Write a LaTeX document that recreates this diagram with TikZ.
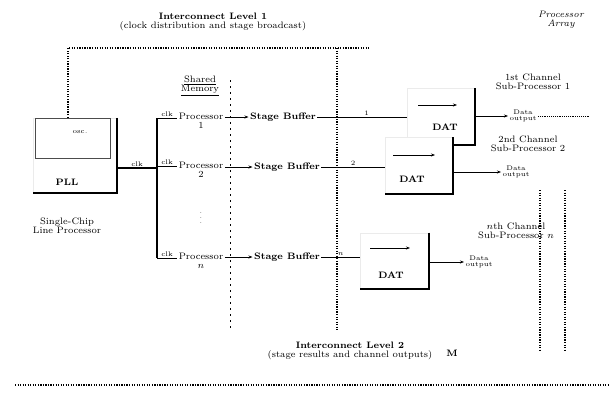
\documentclass[tikz,border=0pt]{standalone}
\usepackage{tikz}
\usetikzlibrary{arrows.meta, positioning, calc}

\begin{document}
\begin{tikzpicture}[
    x=0.75pt, y=-0.75pt,
    every node/.style={font=\scriptsize, inner sep=1pt},
    lbl/.style={align=center},
    hdr/.style={align=center, font=\scriptsize\bfseries},
    proc/.style={align=center, font=\scriptsize},
    sbuf/.style={font=\scriptsize\bfseries},
    tinyl/.style={font=\tiny, inner sep=0.5pt},
    shbox/.style={draw=black!8, fill=white},
    shedge/.style={line width=1.4pt},
    arr/.style={-{Stealth[length=3pt]}, semithick},
    bus/.style={line width=1.1pt},
    dotbus/.style={densely dotted, line width=0.9pt},
    memln/.style={dash pattern=on 1.5pt off 3pt, semithick}
  ]
  \useasboundingbox (0,0) rectangle (614,394);

  % titles
  \node[hdr] (lvone) at (213,22) {Interconnect Level 1\\[-1pt] \mdseries (clock distribution and stage broadcast)};
  \node[lbl, font=\scriptsize\itshape] (parr) at (561,20) {Processor\\[-1pt] Array};

  % line processor chip
  \node[shbox, minimum width=63pt, minimum height=56pt] (pll) at (75,155.5) {};
  \draw[shedge] (pll.north east) -- (pll.south east) -- (pll.south west);
  \node[draw=black!70, fill=white, minimum width=56pt, minimum height=30pt] (osc) at (72.5,138) {};
  \node[tinyl] (osctxt) at (80,132) {osc.};
  \node[font=\scriptsize\bfseries] (plltxt) at (67,182) {PLL};
  \node[lbl] (chip) at (67,226) {Single-Chip\\[-1pt] Line Processor};

  % clock bus and processors
  \coordinate (bustop) at (157,118);
  \coordinate (busbot) at (157,258);
  \node[lbl] (shm) at (200,86) {\underline{Shared}\\[-1pt] \underline{Memory}};
  \node[proc] (p1) at (201,121) {Processor\\[-1pt] 1};
  \node[proc] (p2) at (201,170) {Processor\\[-1pt] 2};
  \node[font=\tiny] (pdots) at (201,214) {$\vdots$};
  \node[proc] (pn) at (201,261) {Processor\\[-1pt] $n$};

  \draw[bus] (bustop) -- (busbot);
  \draw[bus] (pll.east |- 0,168) -- node[tinyl, above] {clk} (bustop |- 0,168);
  \draw[semithick] (bustop) -- node[tinyl, above] {clk} (p1.west |- bustop);
  \draw[semithick] (bustop |- 0,166) -- node[tinyl, above] {clk} (p2.west |- 0,166);
  \draw[semithick] (busbot) -- node[tinyl, above] {clk} (pn.west |- busbot);

  % stage buffers
  \node[sbuf] (sb1) at (283,117) {Stage Buffer};
  \node[sbuf] (sb2) at (287,167) {Stage Buffer};
  \node[sbuf] (sbn) at (287,257) {Stage Buffer};
  \draw[arr] (p1.east |- sb1) -- (sb1);
  \draw[arr] (p2.east |- sb2) -- (sb2);
  \draw[arr] (pn.east |- sbn) -- (sbn);

  % shared memory line
  \coordinate (memtop) at (230,80);
  \coordinate (membot) at (230,330);
  \draw[memln] (memtop) -- (membot);

  % interconnect level 1 bus
  \coordinate (ic1l) at (68,48);
  \coordinate (ic1r) at (370,48);
  \coordinate (ic1d) at (337,330);
  \draw[dotbus] (osc.north -| ic1l) -- (ic1l) -- (ic1r);
  \draw[dotbus] (ic1l -| ic1d) -- (ic1d);

  % DAT units
  \node[shbox, minimum width=51pt, minimum height=42pt] (datn) at (394.5,261) {};
  \draw[shedge] (datn.north east) -- (datn.south east) -- (datn.south west);
  \node[shbox, minimum width=51pt, minimum height=42pt] (dat1) at (441,116.5) {};
  \draw[shedge] (dat1.north east) -- (dat1.south east) -- (dat1.south west);
  \node[shbox, minimum width=51pt, minimum height=42pt] (dat2) at (419,165.5) {};
  \draw[shedge] (dat2.north east) -- (dat2.south east) -- (dat2.south west);
  \node[font=\scriptsize\bfseries] (dat1txt) at (445,127) {DAT};
  \node[font=\scriptsize\bfseries] (dat2txt) at (412,179) {DAT};
  \node[font=\scriptsize\bfseries] (datntxt) at (391,275) {DAT};
  \coordinate (d1a) at (418,105); \coordinate (d1b) at (457,105);
  \coordinate (d2a) at (393,155); \coordinate (d2b) at (435,155);
  \coordinate (dna) at (370,248); \coordinate (dnb) at (410,248);
  \draw[arr] (d1a) -- (d1b);
  \draw[arr] (d2a) -- (d2b);
  \draw[arr] (dna) -- (dnb);

  \draw[semithick] (sb1.east) -- node[tinyl, above, pos=0.55] {1} (dat1.west |- sb1);
  \draw[semithick] (sb2.east) -- node[tinyl, above, pos=0.5] {2} (dat2.west |- sb2);
  \draw[semithick] (sbn.east) -- node[tinyl, above, pos=0.5] {$n$} (datn.west |- sbn);

  % channel sub-processors
  \node[lbl] (ch1) at (533,82) {1st Channel\\[-1pt] Sub-Processor 1};
  \node[lbl] (ch2) at (528,144) {2nd Channel\\[-1pt] Sub-Processor 2};
  \node[lbl] (chn) at (516,231) {$n$th Channel\\[-1pt] Sub-Processor $n$};
  \node[lbl, font=\tiny] (out1) at (523,116) {Data\\[-1pt] output};
  \node[lbl, font=\tiny] (out2) at (516,172) {Data\\[-1pt] output};
  \node[lbl, font=\tiny] (outn) at (479,262) {Data\\[-1pt] output};
  \draw[arr] (dat1.east |- out1) -- (out1);
  \draw[arr] (dat2.east |- out2) -- (out2);
  \draw[arr] (datn.east |- outn) -- (outn);
  \coordinate (o1end) at (590,116);
  \draw[densely dotted] (out1) -- (o1end);

  % interconnect level 2
  \coordinate (ra) at (540,190); \coordinate (rb) at (540,352);
  \coordinate (rc) at (565,190); \coordinate (rd) at (565,352);
  \draw[dotbus] (ra) -- (rb);
  \draw[dotbus] (rc) -- (rd);
  \node[hdr] (lvtwo) at (350,351) {Interconnect Level 2\\[-1pt] \mdseries (stage results and channel outputs)};
  \node[font=\scriptsize\bfseries] (mlbl) at (452,353) {M};
  \coordinate (bl) at (15,385); \coordinate (br) at (610,385);
  \draw[dotbus] (bl) -- (br);

\end{tikzpicture}
\end{document}
